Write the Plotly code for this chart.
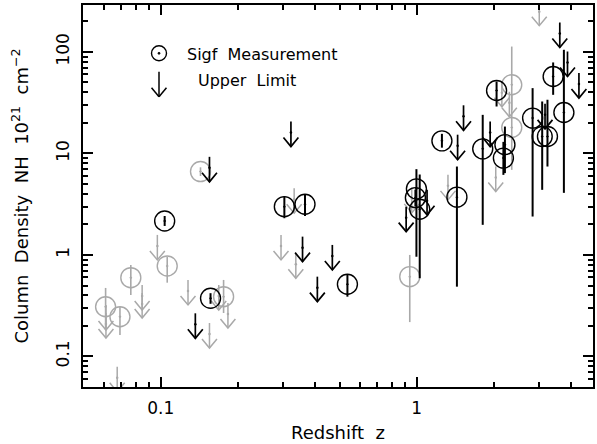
import numpy as np
import plotly.graph_objects as go

# ---- detections: redshift, NH (1e21 cm^-2), upper / lower bounds ----
blk_z = [0.1036, 0.1565, 0.304, 0.366, 0.536, 1.254, 1.435, 0.997, 0.988, 1.027,
         1.81, 2.05, 2.21, 2.18, 2.835, 3.09, 3.24, 3.41, 3.756]
blk_nh = [2.16, 0.374, 2.99, 3.16, 0.514, 13.3, 3.71, 4.48, 3.67, 2.82,
          11.1, 41.7, 12.2, 9.0, 22.3, 14.7, 14.7, 57.3, 25.3]
blk_hi = [2.42, 0.42, 3.76, 3.9, 0.635, 15.6, 7.43, 7.0, 4.4, 6.2,
          24.0, 51.2, 18.4, 13.0, 44.0, 32.5, 33.8, 78.8, 105.0]
blk_lo = [1.93, 0.33, 2.30, 2.42, 0.388, 11.4, 0.487, 0.96, 3.0, 0.59,
          1.98, 29.0, 6.4, 6.15, 2.39, 4.38, 7.43, 37.8, 4.09]

gry_z = [0.143, 0.106, 0.0764, 0.0609, 0.0693, 0.176, 2.35, 2.35, 0.939]
gry_nh = [6.63, 0.779, 0.597, 0.309, 0.246, 0.388, 47.5, 18.0, 0.611]
gry_hi = [7.3, 0.96, 0.797, 0.473, 0.309, 0.567, 113.0, 37.8, 1.0]
gry_lo = [6.0, 0.533, 0.403, 0.182, 0.163, 0.268, 26.9, 6.89, 0.218]

# ---- upper limits: redshift, NH limit ----
blim_z = [0.155, 0.3225, 0.358, 0.468, 0.409, 0.1365, 0.909, 1.097, 1.444,
          1.523, 1.935, 3.17, 3.62, 3.88, 4.30]
blim_nh = [9.26, 20.6, 1.515, 1.255, 0.611, 0.266, 2.99, 4.38, 15.3,
           29.8, 20.6, 30.8, 195.0, 101.0, 61.9]

glim_z = [3.01, 0.097, 0.0846, 0.0846, 0.0611, 0.0611, 0.0676, 0.1278, 0.1685,
          0.183, 0.155, 0.332, 0.295, 0.337, 1.324, 2.035, 2.15, 2.30, 0.956]
glim_nh = [320.0, 1.575, 0.506, 0.422, 0.321, 0.268, 0.079, 0.567, 0.506,
           0.336, 0.2135, 4.55, 1.575, 1.04, 6.15, 7.43, 50.8, 40.5, 4.58]

# tick labels
x_ticks = [0.1, 1]
x_ticktext = ["0.1", "1"]
y_ticks = [0.1, 1, 10, 100]
y_ticktext = ["0.1", "1", "10", "100"]

BLACK = "black"
GRAY = "#a9a9a9"
FONT = "DejaVu Sans"
SP = "\u00a0"

# plot geometry (pixels per decade) used to size arrows consistently
W, H = 597, 444
ML, MR, MT, MB = 83, 2, 5, 57
XR = [np.log10(0.0497), np.log10(4.88)]
YR = [np.log10(0.05), np.log10(290)]
px_per_dec_x = (W - ML - MR) / (XR[1] - XR[0])
px_per_dec_y = (H - MT - MB) / (YR[1] - YR[0])


def arrows(zs, vals):
    """Downward arrows starting at each limit value."""
    L = 25 / px_per_dec_y
    HH = 9 / px_per_dec_y
    WW = 7.5 / px_per_dec_x
    xs, ys, dx, dy = [], [], [], []
    for z, v in zip(zs, vals):
        tip = v * 10 ** (-L)
        xs += [z, z, None, z * 10 ** (-WW), z, z * 10 ** WW, None]
        ys += [v, tip, None, tip * 10 ** HH, tip, tip * 10 ** HH, None]
        dx.append(z)
        dy.append(v * 10 ** (-11 / px_per_dec_y))
    return xs, ys, dx, dy


def detections(zs, nh, hi, lo, color, lw):
    return go.Scatter(
        x=zs, y=nh, mode="markers",
        marker=dict(symbol="circle-open-dot", size=20, color=color,
                    line=dict(color=color, width=1.4)),
        error_y=dict(type="data", symmetric=False,
                     array=[h - v for h, v in zip(hi, nh)],
                     arrayminus=[v - l for v, l in zip(nh, lo)],
                     color=color, thickness=lw, width=0),
        showlegend=False, hoverinfo="skip")


def limits(zs, vals, color, lw):
    xs, ys, dx, dy = arrows(zs, vals)
    return [
        go.Scatter(x=xs, y=ys, mode="lines", line=dict(color=color, width=lw),
                   showlegend=False, hoverinfo="skip"),
        go.Scatter(x=dx, y=dy, mode="markers",
                   marker=dict(size=2.5, color=color),
                   showlegend=False, hoverinfo="skip"),
    ]


fig = go.Figure()
fig.add_traces(limits(glim_z, glim_nh, GRAY, 1.5))
fig.add_trace(detections(gry_z, gry_nh, gry_hi, gry_lo, GRAY, 1.6))
fig.add_traces(limits(blim_z, blim_nh, BLACK, 1.7))
fig.add_trace(detections(blk_z, blk_nh, blk_hi, blk_lo, BLACK, 2))


def minor_vals(lo_exp, hi_exp):
    return [m * 10.0 ** k for k in range(lo_exp, hi_exp + 1) for m in range(2, 10)]


axis_common = dict(
    type="log", showline=True, linecolor="black", linewidth=2,
    mirror="allticks", ticks="inside", ticklen=10, tickwidth=1.5,
    tickcolor="black", showgrid=False, zeroline=False,
    tickfont=dict(family=FONT, size=17, color="black"),
)

fig.update_xaxes(
    **axis_common, range=XR, tickmode="array", tickvals=x_ticks,
    ticktext=x_ticktext, ticklabelstandoff=5,
    minor=dict(ticks="inside", ticklen=5, tickwidth=1.5, tickcolor="black",
               showgrid=False, tickvals=minor_vals(-2, 0)),
    title=dict(text="Redshift" + SP * 2 + "z", standoff=9,
               font=dict(family=FONT, size=18, color="black")),
)
fig.update_yaxes(
    **axis_common, range=YR, tickmode="array", tickvals=y_ticks,
    ticktext=y_ticktext, tickangle=-90, ticklabelstandoff=5,
    minor=dict(ticks="inside", ticklen=5, tickwidth=1.5, tickcolor="black",
               showgrid=False, tickvals=minor_vals(-2, 2)),
    title=dict(text="Column" + SP * 2 + "Density" + SP * 2 + "NH" + SP * 2
               + "10<sup>21</sup>" + SP * 2 + "cm<sup>\u22122</sup>",
               standoff=20, font=dict(family=FONT, size=18, color="black")),
)

# ---- key in the upper-left corner ----
def px2paper(px, py):
    return (px - ML) / (W - ML - MR), (H - MB - py) / (H - MT - MB)

cx, cy = px2paper(159.3, 53.3)
shapes = [
    dict(type="circle", xref="paper", yref="paper", xsizemode="pixel", ysizemode="pixel",
         xanchor=cx, yanchor=cy, x0=-7.5, x1=7.5, y0=-7.5, y1=7.5,
         line=dict(color="black", width=1.4)),
    dict(type="circle", xref="paper", yref="paper", xsizemode="pixel", ysizemode="pixel",
         xanchor=cx, yanchor=cy, x0=-1, x1=1, y0=-1, y1=1,
         line=dict(color="black", width=0.8), fillcolor="black"),
]
ax_, ay_top = px2paper(159.3, 71.7)
_, ay_tip = px2paper(159.3, 96.7)
dxp = 7.5 / (W - ML - MR)
dyp = 9 / (H - MT - MB)
for (x0, y0, x1, y1) in [(ax_, ay_top, ax_, ay_tip),
                         (ax_ - dxp, ay_tip + dyp, ax_, ay_tip),
                         (ax_ + dxp, ay_tip + dyp, ax_, ay_tip)]:
    shapes.append(dict(type="line", xref="paper", yref="paper",
                       x0=x0, y0=y0, x1=x1, y1=y1,
                       line=dict(color="black", width=1.5)))

tx1, ty1 = px2paper(185, 54.5)
tx2, ty2 = px2paper(196.7, 80)
annotations = [
    dict(text="Sigf" + SP * 2 + "Measurement", xref="paper", yref="paper", x=tx1, y=ty1,
         xanchor="left", yanchor="middle", showarrow=False,
         font=dict(family=FONT, size=16, color="black")),
    dict(text="Upper" + SP * 2 + "Limit", xref="paper", yref="paper", x=tx2, y=ty2,
         xanchor="left", yanchor="middle", showarrow=False,
         font=dict(family=FONT, size=16, color="black")),
]

fig.update_layout(
    width=W, height=H,
    margin=dict(l=ML, r=MR, t=MT, b=MB),
    paper_bgcolor="white", plot_bgcolor="white",
    shapes=shapes, annotations=annotations,
    showlegend=False,
)

fig.write_html("out.html")
